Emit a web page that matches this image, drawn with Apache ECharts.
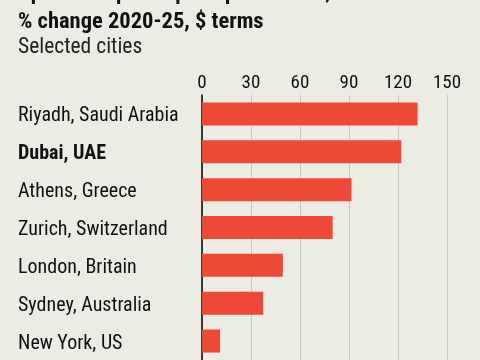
<!DOCTYPE html>
<html>
<head>
<meta charset="utf-8">
<script src="https://cdn.jsdelivr.net/npm/echarts@6/dist/echarts.min.js"></script>
<style>
html,body{margin:0;padding:0;background:#ECEBE4;}
#c{width:480px;height:360px;}
</style>
</head>
<body>
<div id="c"></div>
<script>
const cities = ["Riyadh, Saudi Arabia", "Dubai, UAE", "Athens, Greece", "Zurich, Switzerland", "London, Britain", "Sydney, Australia", "New York, US"];
const changes = [132, 122, 91.5, 80, 49.5, 37.5, 11];
const xTicks = [0, 30, 60, 90, 120, 150];
const highlight = "Dubai, UAE";

const FONT = "'Roboto Condensed', Roboto, sans-serif";
const chart = echarts.init(document.getElementById('c'));
chart.setOption({
  backgroundColor: '#ECEBE4',
  animation: false,
  title: [
    { text: 'Apartment prices per square metre,', left: 18, top: -18, padding: 0,
      textStyle: { fontFamily: FONT, fontSize: 22, fontWeight: 'bold', color: '#111' } },
    { text: '% change 2020-25, $ terms', left: 18, top: 11, padding: 0,
      textStyle: { fontFamily: FONT, fontSize: 22.5, fontWeight: 'bold', color: '#111' } },
    { text: 'Selected cities', left: 18, top: 37, padding: 0,
      textStyle: { fontFamily: FONT, fontSize: 21.5, fontWeight: 'normal', color: '#222' } }
  ],
  grid: { left: 202, right: 33, top: 95, height: 271, containLabel: false },
  xAxis: {
    type: 'value', position: 'top', min: xTicks[0], max: xTicks[xTicks.length - 1], interval: 30,
    axisLine: { show: false }, axisTick: { show: false },
    axisLabel: { fontFamily: FONT, fontSize: 19, color: '#111', margin: 2 },
    splitLine: { show: true, lineStyle: { color: '#C9C8C0', width: 1 } }
  },
  yAxis: {
    type: 'category', data: cities, inverse: true,
    axisLine: { show: true, lineStyle: { color: '#000', width: 1.5 } },
    axisTick: { show: false },
    axisLabel: {
      align: 'left', margin: 184, fontFamily: FONT, fontSize: 20, color: '#111',
      padding: [5, 0, 0, 0],
      formatter: v => v === highlight ? '{b|' + v + '}' : v,
      rich: { b: { fontFamily: FONT, fontSize: 20, fontWeight: 'bold', color: '#111' } }
    }
  },
  series: [{
    type: 'bar', data: changes, barWidth: 23,
    itemStyle: { color: '#EC4A37' }
  }]
});
</script>
</body>
</html>
